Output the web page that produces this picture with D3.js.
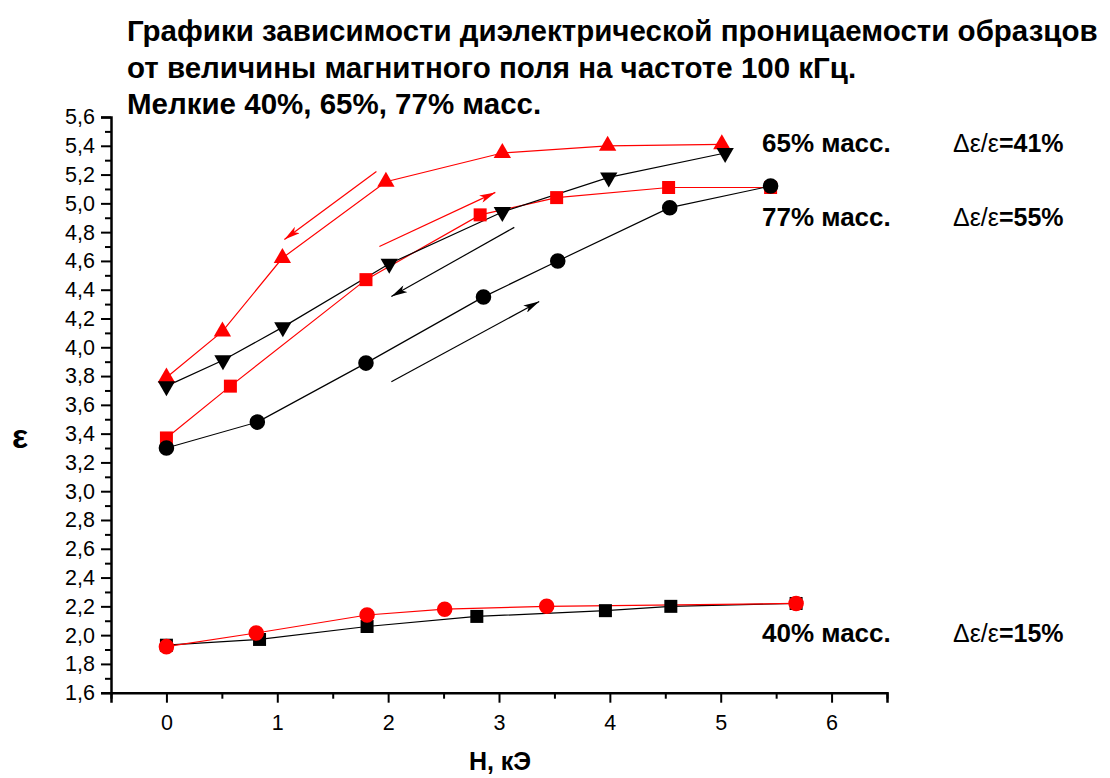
<!DOCTYPE html>
<html>
<head>
<meta charset="utf-8">
<script src="https://cdn.jsdelivr.net/npm/d3@7"></script>
<style>
  body { margin: 0; background: #fff; }
  text { font-family: "Liberation Sans", Arial, sans-serif; }
</style>
</head>
<body>
<div id="chart"></div>
<script>
// data: H in kOe, eps
var h40up = [0, 0.84, 1.81, 2.80, 3.96, 4.55, 5.68];
var e40up = [1.93, 1.97, 2.06, 2.13, 2.17, 2.20, 2.22];
var h40dn = [0, 0.81, 1.81, 2.51, 3.43, 5.68];
var e40dn = [1.92, 2.015, 2.14, 2.18, 2.20, 2.22];

var h65up = [0, 0.51, 1.05, 2.01, 3.03, 3.99, 5.04];
var e65up = [3.73, 3.91, 4.14, 4.58, 4.94, 5.18, 5.35];
var h65dn = [0, 0.505, 1.046, 1.98, 3.03, 3.98, 5.01];
var e65dn = [3.79, 4.11, 4.62, 5.15, 5.35, 5.40, 5.41];

var h77up = [0, 0.82, 1.80, 2.86, 3.53, 4.54, 5.45];
var e77up = [3.30, 3.48, 3.89, 4.35, 4.60, 4.97, 5.12];
var h77dn = [0, 0.577, 1.80, 2.83, 3.52, 4.53, 5.45];
var e77dn = [3.37, 3.73, 4.47, 4.92, 5.04, 5.11, 5.11];

// arrows [x1, y1, x2, y2] in data units
var redArrows = [[1.894, 5.222, 1.064, 4.749], [1.921, 4.70, 2.967, 5.076]];
var blackArrows = [[3.138, 4.833, 2.029, 4.353], [2.029, 3.761, 3.363, 4.318]];

var xTicks = [0, 1, 2, 3, 4, 5, 6];
var titleLines = [
  "Графики зависимости диэлектрической проницаемости образцов",
  "от величины магнитного поля на частоте 100 кГц.",
  "Мелкие 40%, 65%, 77% масс."
];

var W = 1110, H = 778;
var svg = d3.select("#chart").append("svg").attr("width", W).attr("height", H);

var x = d3.scaleLinear().domain([-0.5, 6.5]).range([111, 887]);
var y = d3.scaleLinear().domain([1.6, 5.6]).range([692.7, 117]);

var comma = function(v) { return d3.format(".1f")(v).replace(".", ","); };

// y axis
svg.append("g").attr("transform", "translate(111,0)")
  .call(d3.axisLeft(y).tickValues(d3.range(16, 57, 2).map(function(v){ return v / 10; }))
    .tickFormat(comma).tickSize(10).tickPadding(6));
svg.append("g").attr("transform", "translate(111,0)")
  .call(d3.axisLeft(y).tickValues(d3.range(17, 56, 2).map(function(v){ return v / 10; }))
    .tickFormat("").tickSize(6))
  .select(".domain").remove();

// x axis
svg.append("g").attr("transform", "translate(0,692.7)")
  .call(d3.axisBottom(x).tickValues(xTicks).tickFormat(d3.format("d")).tickSize(10).tickPadding(12));
svg.append("g").attr("transform", "translate(0,692.7)")
  .call(d3.axisBottom(x).tickValues(d3.range(-1, 14, 2).map(function(v){ return v / 2; }))
    .tickFormat("").tickSize(6))
  .select(".domain").remove();

svg.selectAll(".domain").attr("stroke-width", 2.5).attr("stroke", "#000");
svg.selectAll(".tick line").attr("stroke-width", 2).attr("stroke", "#000");
svg.selectAll(".tick text").attr("font-size", 21.5).attr("fill", "#000")
  .style("font-family", "'Liberation Sans', Arial, sans-serif");

function series(hs, es, color) {
  var pts = hs.map(function(d, i) { return [d, es[i]]; });
  svg.append("path").datum(pts)
    .attr("fill", "none").attr("stroke", color).attr("stroke-width", 1.2)
    .attr("d", d3.line().x(function(d){ return x(d[0]); }).y(function(d){ return y(d[1]); }));
  return pts;
}
function markers(pts, color, symbol, size, rot) {
  svg.append("g").selectAll("path").data(pts).enter().append("path")
    .attr("d", d3.symbol().type(symbol).size(size))
    .attr("transform", function(d) {
      return "translate(" + x(d[0]) + "," + y(d[1]) + ")" + (rot ? " rotate(180)" : "");
    })
    .attr("fill", color);
}

var p40up = series(h40up, e40up, "#000");
var p40dn = series(h40dn, e40dn, "#ff0000");
var p77dn = series(h77dn, e77dn, "#ff0000");
var p77up = series(h77up, e77up, "#000");
var p65dn = series(h65dn, e65dn, "#ff0000");
var p65up = series(h65up, e65up, "#000");

markers(p40up, "#000", d3.symbolSquare, 169);
markers(p40dn, "#ff0000", d3.symbolCircle, 190);
markers(p77dn, "#ff0000", d3.symbolSquare, 169);
markers(p77up, "#000", d3.symbolCircle, 190);
markers(p65dn, "#ff0000", d3.symbolTriangle, 130);
markers(p65up, "#000", d3.symbolTriangle, 130, true);

// arrows
var defs = svg.append("defs");
["#ff0000", "#000"].forEach(function(c, i) {
  defs.append("marker").attr("id", "ah" + i)
    .attr("viewBox", "0 0 16 8").attr("refX", 16).attr("refY", 4)
    .attr("markerWidth", 16).attr("markerHeight", 8)
    .attr("markerUnits", "userSpaceOnUse").attr("orient", "auto")
    .append("path").attr("d", "M0,0 L16,4 L0,8 L4,4 Z").attr("fill", c);
});
function arrows(list, color, id) {
  svg.append("g").selectAll("line").data(list).enter().append("line")
    .attr("x1", function(d){ return x(d[0]); }).attr("y1", function(d){ return y(d[1]); })
    .attr("x2", function(d){ return x(d[2]); }).attr("y2", function(d){ return y(d[3]); })
    .attr("stroke", color).attr("stroke-width", 1.2)
    .attr("marker-end", "url(#" + id + ")");
}
arrows(redArrows, "#ff0000", "ah0");
arrows(blackArrows, "#000", "ah1");

// title
svg.append("g").selectAll("text").data(titleLines).enter().append("text")
  .attr("x", 127).attr("y", function(d, i){ return 41 + i * 36.5; })
  .attr("font-size", 29.5).attr("font-weight", "bold")
  .text(function(d){ return d; });

// axis titles
svg.append("text").attr("x", 500).attr("y", 770).attr("text-anchor", "middle")
  .attr("font-size", 25).attr("font-weight", "bold").text("H, кЭ");
svg.append("text").attr("x", 20).attr("y", 448).attr("text-anchor", "middle")
  .attr("font-size", 34).attr("font-weight", "bold").text("ε");

// labels on the right
var labels = [["65% масс.", "=41%", 152], ["77% масс.", "=55%", 226], ["40% масс.", "=15%", 642]];
labels.forEach(function(l) {
  svg.append("text").attr("x", 762).attr("y", l[2])
    .attr("font-size", 26).attr("font-weight", "bold").text(l[0]);
  var t = svg.append("text").attr("x", 953).attr("y", l[2]).attr("font-size", 25);
  t.append("tspan").text("Δε/ε");
  t.append("tspan").attr("font-weight", "bold").text(l[1]);
});
</script>
</body>
</html>
